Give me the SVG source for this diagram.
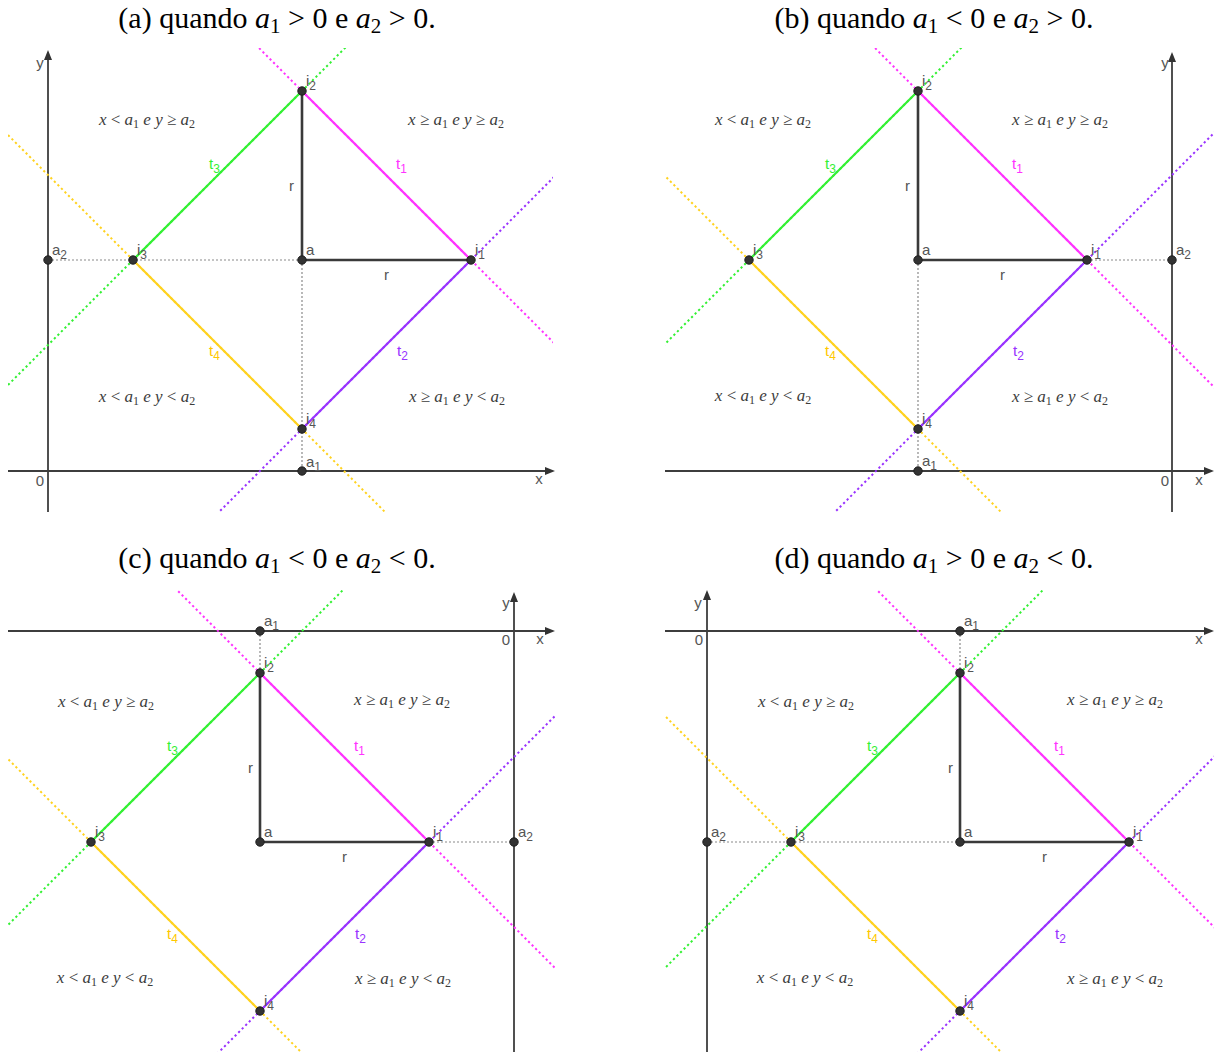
<svg xmlns="http://www.w3.org/2000/svg" width="1219" height="1055" viewBox="0 0 1219 1055">
<style>
.ax{stroke:#3d3d3d;stroke-width:1.8;fill:none}
.gd{stroke:#8a8a8a;stroke-width:1.2;stroke-dasharray:2 2;fill:none}
.rs{stroke:#3a3a3a;stroke-width:2.6;fill:none}
.seg{stroke-width:2.2;fill:none}
.dt{stroke-width:2;stroke-dasharray:2.2 2.8;fill:none}
.c1{stroke:#ff33ff}.c2{stroke:#9933ff}.c3{stroke:#33f033}.c4{stroke:#ffd21f}
.f1{fill:#ff33ff}.f2{fill:#9933ff}.f3{fill:#33f033}.f4{fill:#ffc800}
.pt circle{fill:#333;stroke:#1e1e1e;stroke-width:1}
.lb{font-family:"Liberation Sans",Arial,sans-serif;font-size:15px;fill:#555}
.tl{font-family:"Liberation Sans",Arial,sans-serif;font-size:15px}
.sb{font-size:12px}
.m{font-family:"Liberation Serif","Times New Roman",serif;font-size:17px;fill:#3c3c3c;font-style:italic;text-anchor:middle}
.u{font-style:normal}
.ms{font-style:normal;font-size:12px}
.ttl{font-family:"Liberation Serif","Times New Roman",serif;font-size:30px;fill:#000;text-anchor:middle}
.ts{font-size:21px}
</style>
<defs>
<marker id="arr" viewBox="0 0 10 8" refX="4" refY="4" markerWidth="10" markerHeight="8" orient="auto" markerUnits="userSpaceOnUse"><path d="M0,0 L10,4 L0,8 z" fill="#333"/></marker>
<clipPath id="ca"><rect x="-294" y="-212" width="545" height="464"/></clipPath>
<clipPath id="cb"><rect x="-253" y="-212" width="549" height="464"/></clipPath>
<clipPath id="cc"><rect x="-252" y="-252" width="547" height="462"/></clipPath>
<clipPath id="cd"><rect x="-295" y="-252" width="549" height="462"/></clipPath>
</defs>
<rect width="1219" height="1055" fill="#fff"/>

<g id="titles">
<text class="ttl" x="277" y="28" xml:space="preserve">(a) quando <tspan font-style="italic">a</tspan><tspan class="ts" dy="5">1</tspan><tspan dy="-5"> &gt; 0 e </tspan><tspan font-style="italic">a</tspan><tspan class="ts" dy="5">2</tspan><tspan dy="-5"> &gt; 0.</tspan></text>
<text class="ttl" x="934" y="28" xml:space="preserve">(b) quando <tspan font-style="italic">a</tspan><tspan class="ts" dy="5">1</tspan><tspan dy="-5"> &lt; 0 e </tspan><tspan font-style="italic">a</tspan><tspan class="ts" dy="5">2</tspan><tspan dy="-5"> &gt; 0.</tspan></text>
<text class="ttl" x="277" y="568" xml:space="preserve">(c) quando <tspan font-style="italic">a</tspan><tspan class="ts" dy="5">1</tspan><tspan dy="-5"> &lt; 0 e </tspan><tspan font-style="italic">a</tspan><tspan class="ts" dy="5">2</tspan><tspan dy="-5"> &lt; 0.</tspan></text>
<text class="ttl" x="934" y="568" xml:space="preserve">(d) quando <tspan font-style="italic">a</tspan><tspan class="ts" dy="5">1</tspan><tspan dy="-5"> &gt; 0 e </tspan><tspan font-style="italic">a</tspan><tspan class="ts" dy="5">2</tspan><tspan dy="-5"> &lt; 0.</tspan></text>
</g>

<!-- PANEL A -->
<g id="panel-a" transform="translate(302,260)">
<g id="a-axes">
<path class="ax" d="M-254,252 V-204" marker-end="url(#arr)"/>
<path class="ax" d="M-294,211 H247" marker-end="url(#arr)"/>
<text class="lb" x="-262" y="-192" text-anchor="middle">y</text>
<text class="lb" x="-262" y="226" text-anchor="middle">0</text>
<text class="lb" x="237" y="224" text-anchor="middle">x</text>
</g>
<g id="a-connectors">
<g clip-path="url(#ca)">
<path class="dt c1" d="M-400,-569 L400,231"/>
<path class="dt c3" d="M-400,231 L400,-569"/>
<path class="dt c4" d="M-400,-231 L400,569"/>
<path class="dt c2" d="M-400,569 L400,-231"/>
</g>
<path class="gd" d="M-254,0 H0 M0,0 V211"/>
<path class="seg c1" d="M0,-169 L169,0"/>
<path class="seg c2" d="M169,0 L0,169"/>
<path class="seg c3" d="M-169,0 L0,-169"/>
<path class="seg c4" d="M-169,0 L0,169"/>
<path class="rs" d="M0,0 V-169 M0,0 H169"/>
</g>
<g id="a-seglabels">
<text class="tl f3" x="-93" y="-91">t<tspan class="sb" dy="4">3</tspan></text>
<text class="tl f1" x="94" y="-91">t<tspan class="sb" dy="4">1</tspan></text>
<text class="tl f4" x="-93" y="96">t<tspan class="sb" dy="4">4</tspan></text>
<text class="tl f2" x="95" y="96">t<tspan class="sb" dy="4">2</tspan></text>
<text class="lb" x="-13" y="-69">r</text>
<text class="lb" x="82" y="20">r</text>
</g>
<g id="a-regions">
<text class="m" x="-155" y="-135" xml:space="preserve">x <tspan class="u">&lt;</tspan> a<tspan class="ms" dy="3">1</tspan><tspan dy="-3"> e y </tspan><tspan class="u">≥</tspan> a<tspan class="ms" dy="3">2</tspan></text>
<text class="m" x="154" y="-135" xml:space="preserve">x <tspan class="u">≥</tspan> a<tspan class="ms" dy="3">1</tspan><tspan dy="-3"> e y </tspan><tspan class="u">≥</tspan> a<tspan class="ms" dy="3">2</tspan></text>
<text class="m" x="-155" y="142" xml:space="preserve">x <tspan class="u">&lt;</tspan> a<tspan class="ms" dy="3">1</tspan><tspan dy="-3"> e y </tspan><tspan class="u">&lt;</tspan> a<tspan class="ms" dy="3">2</tspan></text>
<text class="m" x="155" y="142" xml:space="preserve">x <tspan class="u">≥</tspan> a<tspan class="ms" dy="3">1</tspan><tspan dy="-3"> e y </tspan><tspan class="u">&lt;</tspan> a<tspan class="ms" dy="3">2</tspan></text>
</g>
<g id="a-i1" class="pt" transform="translate(169,0)"><circle r="4.2"/><text class="lb" x="4" y="-5">i<tspan class="sb" dy="4">1</tspan></text></g>
<g id="a-i2" class="pt" transform="translate(0,-169)"><circle r="4.2"/><text class="lb" x="4" y="-5">i<tspan class="sb" dy="4">2</tspan></text></g>
<g id="a-i3" class="pt" transform="translate(-169,0)"><circle r="4.2"/><text class="lb" x="4" y="-5">i<tspan class="sb" dy="4">3</tspan></text></g>
<g id="a-i4" class="pt" transform="translate(0,169)"><circle r="4.2"/><text class="lb" x="4" y="-5">i<tspan class="sb" dy="4">4</tspan></text></g>
<g id="a-a" class="pt"><circle r="4.2"/><text class="lb" x="4" y="-5">a</text></g>
<g id="a-a1" class="pt" transform="translate(0,211)"><circle r="4.2"/><text class="lb" x="4" y="-4">a<tspan class="sb" dy="4">1</tspan></text></g>
<g id="a-a2" class="pt" transform="translate(-254,0)"><circle r="4.2"/><text class="lb" x="4" y="-5">a<tspan class="sb" dy="4">2</tspan></text></g>
</g>

<!-- PANEL B -->
<g id="panel-b" transform="translate(918,260)">
<g id="b-axes">
<path class="ax" d="M254,252 V-202" marker-end="url(#arr)"/>
<path class="ax" d="M-253,211 H290" marker-end="url(#arr)"/>
<text class="lb" x="247" y="-192" text-anchor="middle">y</text>
<text class="lb" x="247" y="226" text-anchor="middle">0</text>
<text class="lb" x="281" y="225" text-anchor="middle">x</text>
</g>
<g id="b-connectors">
<g clip-path="url(#cb)">
<path class="dt c1" d="M-400,-569 L400,231"/>
<path class="dt c3" d="M-400,231 L400,-569"/>
<path class="dt c4" d="M-400,-231 L400,569"/>
<path class="dt c2" d="M-400,569 L400,-231"/>
</g>
<path class="gd" d="M169,0 H254 M0,0 V211"/>
<path class="seg c1" d="M0,-169 L169,0"/>
<path class="seg c2" d="M169,0 L0,169"/>
<path class="seg c3" d="M-169,0 L0,-169"/>
<path class="seg c4" d="M-169,0 L0,169"/>
<path class="rs" d="M0,0 V-169 M0,0 H169"/>
</g>
<g id="b-seglabels">
<text class="tl f3" x="-93" y="-91">t<tspan class="sb" dy="4">3</tspan></text>
<text class="tl f1" x="94" y="-91">t<tspan class="sb" dy="4">1</tspan></text>
<text class="tl f4" x="-93" y="96">t<tspan class="sb" dy="4">4</tspan></text>
<text class="tl f2" x="95" y="96">t<tspan class="sb" dy="4">2</tspan></text>
<text class="lb" x="-13" y="-69">r</text>
<text class="lb" x="82" y="20">r</text>
</g>
<g id="b-regions">
<text class="m" x="-155" y="-135" xml:space="preserve">x <tspan class="u">&lt;</tspan> a<tspan class="ms" dy="3">1</tspan><tspan dy="-3"> e y </tspan><tspan class="u">≥</tspan> a<tspan class="ms" dy="3">2</tspan></text>
<text class="m" x="142" y="-135" xml:space="preserve">x <tspan class="u">≥</tspan> a<tspan class="ms" dy="3">1</tspan><tspan dy="-3"> e y </tspan><tspan class="u">≥</tspan> a<tspan class="ms" dy="3">2</tspan></text>
<text class="m" x="-155" y="141" xml:space="preserve">x <tspan class="u">&lt;</tspan> a<tspan class="ms" dy="3">1</tspan><tspan dy="-3"> e y </tspan><tspan class="u">&lt;</tspan> a<tspan class="ms" dy="3">2</tspan></text>
<text class="m" x="142" y="142" xml:space="preserve">x <tspan class="u">≥</tspan> a<tspan class="ms" dy="3">1</tspan><tspan dy="-3"> e y </tspan><tspan class="u">&lt;</tspan> a<tspan class="ms" dy="3">2</tspan></text>
</g>
<g id="b-i1" class="pt" transform="translate(169,0)"><circle r="4.2"/><text class="lb" x="4" y="-5">i<tspan class="sb" dy="4">1</tspan></text></g>
<g id="b-i2" class="pt" transform="translate(0,-169)"><circle r="4.2"/><text class="lb" x="4" y="-5">i<tspan class="sb" dy="4">2</tspan></text></g>
<g id="b-i3" class="pt" transform="translate(-169,0)"><circle r="4.2"/><text class="lb" x="4" y="-5">i<tspan class="sb" dy="4">3</tspan></text></g>
<g id="b-i4" class="pt" transform="translate(0,169)"><circle r="4.2"/><text class="lb" x="4" y="-5">i<tspan class="sb" dy="4">4</tspan></text></g>
<g id="b-a" class="pt"><circle r="4.2"/><text class="lb" x="4" y="-5">a</text></g>
<g id="b-a1" class="pt" transform="translate(0,211)"><circle r="4.2"/><text class="lb" x="4" y="-5">a<tspan class="sb" dy="4">1</tspan></text></g>
<g id="b-a2" class="pt" transform="translate(254,0)"><circle r="4.2"/><text class="lb" x="4" y="-5">a<tspan class="sb" dy="4">2</tspan></text></g>
</g>

<!-- PANEL C -->
<g id="panel-c" transform="translate(260,842)">
<g id="c-axes">
<path class="ax" d="M-252,-211 H289" marker-end="url(#arr)"/>
<path class="ax" d="M254,210 V-244" marker-end="url(#arr)"/>
<text class="lb" x="246" y="-234" text-anchor="middle">y</text>
<text class="lb" x="246" y="-197" text-anchor="middle">0</text>
<text class="lb" x="280" y="-198" text-anchor="middle">x</text>
</g>
<g id="c-connectors">
<g clip-path="url(#cc)">
<path class="dt c1" d="M-400,-569 L400,231"/>
<path class="dt c3" d="M-400,231 L400,-569"/>
<path class="dt c4" d="M-400,-231 L400,569"/>
<path class="dt c2" d="M-400,569 L400,-231"/>
</g>
<path class="gd" d="M0,-211 V-169 M169,0 H254"/>
<path class="seg c1" d="M0,-169 L169,0"/>
<path class="seg c2" d="M169,0 L0,169"/>
<path class="seg c3" d="M-169,0 L0,-169"/>
<path class="seg c4" d="M-169,0 L0,169"/>
<path class="rs" d="M0,0 V-169 M0,0 H169"/>
</g>
<g id="c-seglabels">
<text class="tl f3" x="-93" y="-91">t<tspan class="sb" dy="4">3</tspan></text>
<text class="tl f1" x="94" y="-91">t<tspan class="sb" dy="4">1</tspan></text>
<text class="tl f4" x="-93" y="97">t<tspan class="sb" dy="4">4</tspan></text>
<text class="tl f2" x="95" y="97">t<tspan class="sb" dy="4">2</tspan></text>
<text class="lb" x="-12" y="-69">r</text>
<text class="lb" x="82" y="20">r</text>
</g>
<g id="c-regions">
<text class="m" x="-154" y="-135" xml:space="preserve">x <tspan class="u">&lt;</tspan> a<tspan class="ms" dy="3">1</tspan><tspan dy="-3"> e y </tspan><tspan class="u">≥</tspan> a<tspan class="ms" dy="3">2</tspan></text>
<text class="m" x="142" y="-137" xml:space="preserve">x <tspan class="u">≥</tspan> a<tspan class="ms" dy="3">1</tspan><tspan dy="-3"> e y </tspan><tspan class="u">≥</tspan> a<tspan class="ms" dy="3">2</tspan></text>
<text class="m" x="-155" y="141" xml:space="preserve">x <tspan class="u">&lt;</tspan> a<tspan class="ms" dy="3">1</tspan><tspan dy="-3"> e y </tspan><tspan class="u">&lt;</tspan> a<tspan class="ms" dy="3">2</tspan></text>
<text class="m" x="143" y="142" xml:space="preserve">x <tspan class="u">≥</tspan> a<tspan class="ms" dy="3">1</tspan><tspan dy="-3"> e y </tspan><tspan class="u">&lt;</tspan> a<tspan class="ms" dy="3">2</tspan></text>
</g>
<g id="c-i1" class="pt" transform="translate(169,0)"><circle r="4.2"/><text class="lb" x="4" y="-5">i<tspan class="sb" dy="4">1</tspan></text></g>
<g id="c-i2" class="pt" transform="translate(0,-169)"><circle r="4.2"/><text class="lb" x="4" y="-5">i<tspan class="sb" dy="4">2</tspan></text></g>
<g id="c-i3" class="pt" transform="translate(-169,0)"><circle r="4.2"/><text class="lb" x="4" y="-5">i<tspan class="sb" dy="4">3</tspan></text></g>
<g id="c-i4" class="pt" transform="translate(0,169)"><circle r="4.2"/><text class="lb" x="4" y="-5">i<tspan class="sb" dy="4">4</tspan></text></g>
<g id="c-a" class="pt"><circle r="4.2"/><text class="lb" x="4" y="-5">a</text></g>
<g id="c-a1" class="pt" transform="translate(0,-211)"><circle r="4.2"/><text class="lb" x="4" y="-5">a<tspan class="sb" dy="4">1</tspan></text></g>
<g id="c-a2" class="pt" transform="translate(254,0)"><circle r="4.2"/><text class="lb" x="4" y="-5">a<tspan class="sb" dy="4">2</tspan></text></g>
</g>

<!-- PANEL D -->
<g id="panel-d" transform="translate(960,842)">
<g id="d-axes">
<path class="ax" d="M-295,-211 H248" marker-end="url(#arr)"/>
<path class="ax" d="M-253,210 V-246" marker-end="url(#arr)"/>
<text class="lb" x="-262" y="-234" text-anchor="middle">y</text>
<text class="lb" x="-261" y="-197" text-anchor="middle">0</text>
<text class="lb" x="239" y="-198" text-anchor="middle">x</text>
</g>
<g id="d-connectors">
<g clip-path="url(#cd)">
<path class="dt c1" d="M-400,-569 L400,231"/>
<path class="dt c3" d="M-400,231 L400,-569"/>
<path class="dt c4" d="M-400,-231 L400,569"/>
<path class="dt c2" d="M-400,569 L400,-231"/>
</g>
<path class="gd" d="M0,-211 V-169 M-253,0 H0"/>
<path class="seg c1" d="M0,-169 L169,0"/>
<path class="seg c2" d="M169,0 L0,169"/>
<path class="seg c3" d="M-169,0 L0,-169"/>
<path class="seg c4" d="M-169,0 L0,169"/>
<path class="rs" d="M0,0 V-169 M0,0 H169"/>
</g>
<g id="d-seglabels">
<text class="tl f3" x="-93" y="-91">t<tspan class="sb" dy="4">3</tspan></text>
<text class="tl f1" x="94" y="-91">t<tspan class="sb" dy="4">1</tspan></text>
<text class="tl f4" x="-93" y="97">t<tspan class="sb" dy="4">4</tspan></text>
<text class="tl f2" x="95" y="97">t<tspan class="sb" dy="4">2</tspan></text>
<text class="lb" x="-12" y="-69">r</text>
<text class="lb" x="82" y="20">r</text>
</g>
<g id="d-regions">
<text class="m" x="-154" y="-135" xml:space="preserve">x <tspan class="u">&lt;</tspan> a<tspan class="ms" dy="3">1</tspan><tspan dy="-3"> e y </tspan><tspan class="u">≥</tspan> a<tspan class="ms" dy="3">2</tspan></text>
<text class="m" x="155" y="-137" xml:space="preserve">x <tspan class="u">≥</tspan> a<tspan class="ms" dy="3">1</tspan><tspan dy="-3"> e y </tspan><tspan class="u">≥</tspan> a<tspan class="ms" dy="3">2</tspan></text>
<text class="m" x="-155" y="141" xml:space="preserve">x <tspan class="u">&lt;</tspan> a<tspan class="ms" dy="3">1</tspan><tspan dy="-3"> e y </tspan><tspan class="u">&lt;</tspan> a<tspan class="ms" dy="3">2</tspan></text>
<text class="m" x="155" y="142" xml:space="preserve">x <tspan class="u">≥</tspan> a<tspan class="ms" dy="3">1</tspan><tspan dy="-3"> e y </tspan><tspan class="u">&lt;</tspan> a<tspan class="ms" dy="3">2</tspan></text>
</g>
<g id="d-i1" class="pt" transform="translate(169,0)"><circle r="4.2"/><text class="lb" x="4" y="-5">i<tspan class="sb" dy="4">1</tspan></text></g>
<g id="d-i2" class="pt" transform="translate(0,-169)"><circle r="4.2"/><text class="lb" x="4" y="-5">i<tspan class="sb" dy="4">2</tspan></text></g>
<g id="d-i3" class="pt" transform="translate(-169,0)"><circle r="4.2"/><text class="lb" x="4" y="-5">i<tspan class="sb" dy="4">3</tspan></text></g>
<g id="d-i4" class="pt" transform="translate(0,169)"><circle r="4.2"/><text class="lb" x="4" y="-5">i<tspan class="sb" dy="4">4</tspan></text></g>
<g id="d-a" class="pt"><circle r="4.2"/><text class="lb" x="4" y="-5">a</text></g>
<g id="d-a1" class="pt" transform="translate(0,-211)"><circle r="4.2"/><text class="lb" x="4" y="-5">a<tspan class="sb" dy="4">1</tspan></text></g>
<g id="d-a2" class="pt" transform="translate(-253,0)"><circle r="4.2"/><text class="lb" x="4" y="-5">a<tspan class="sb" dy="4">2</tspan></text></g>
</g>
</svg>
